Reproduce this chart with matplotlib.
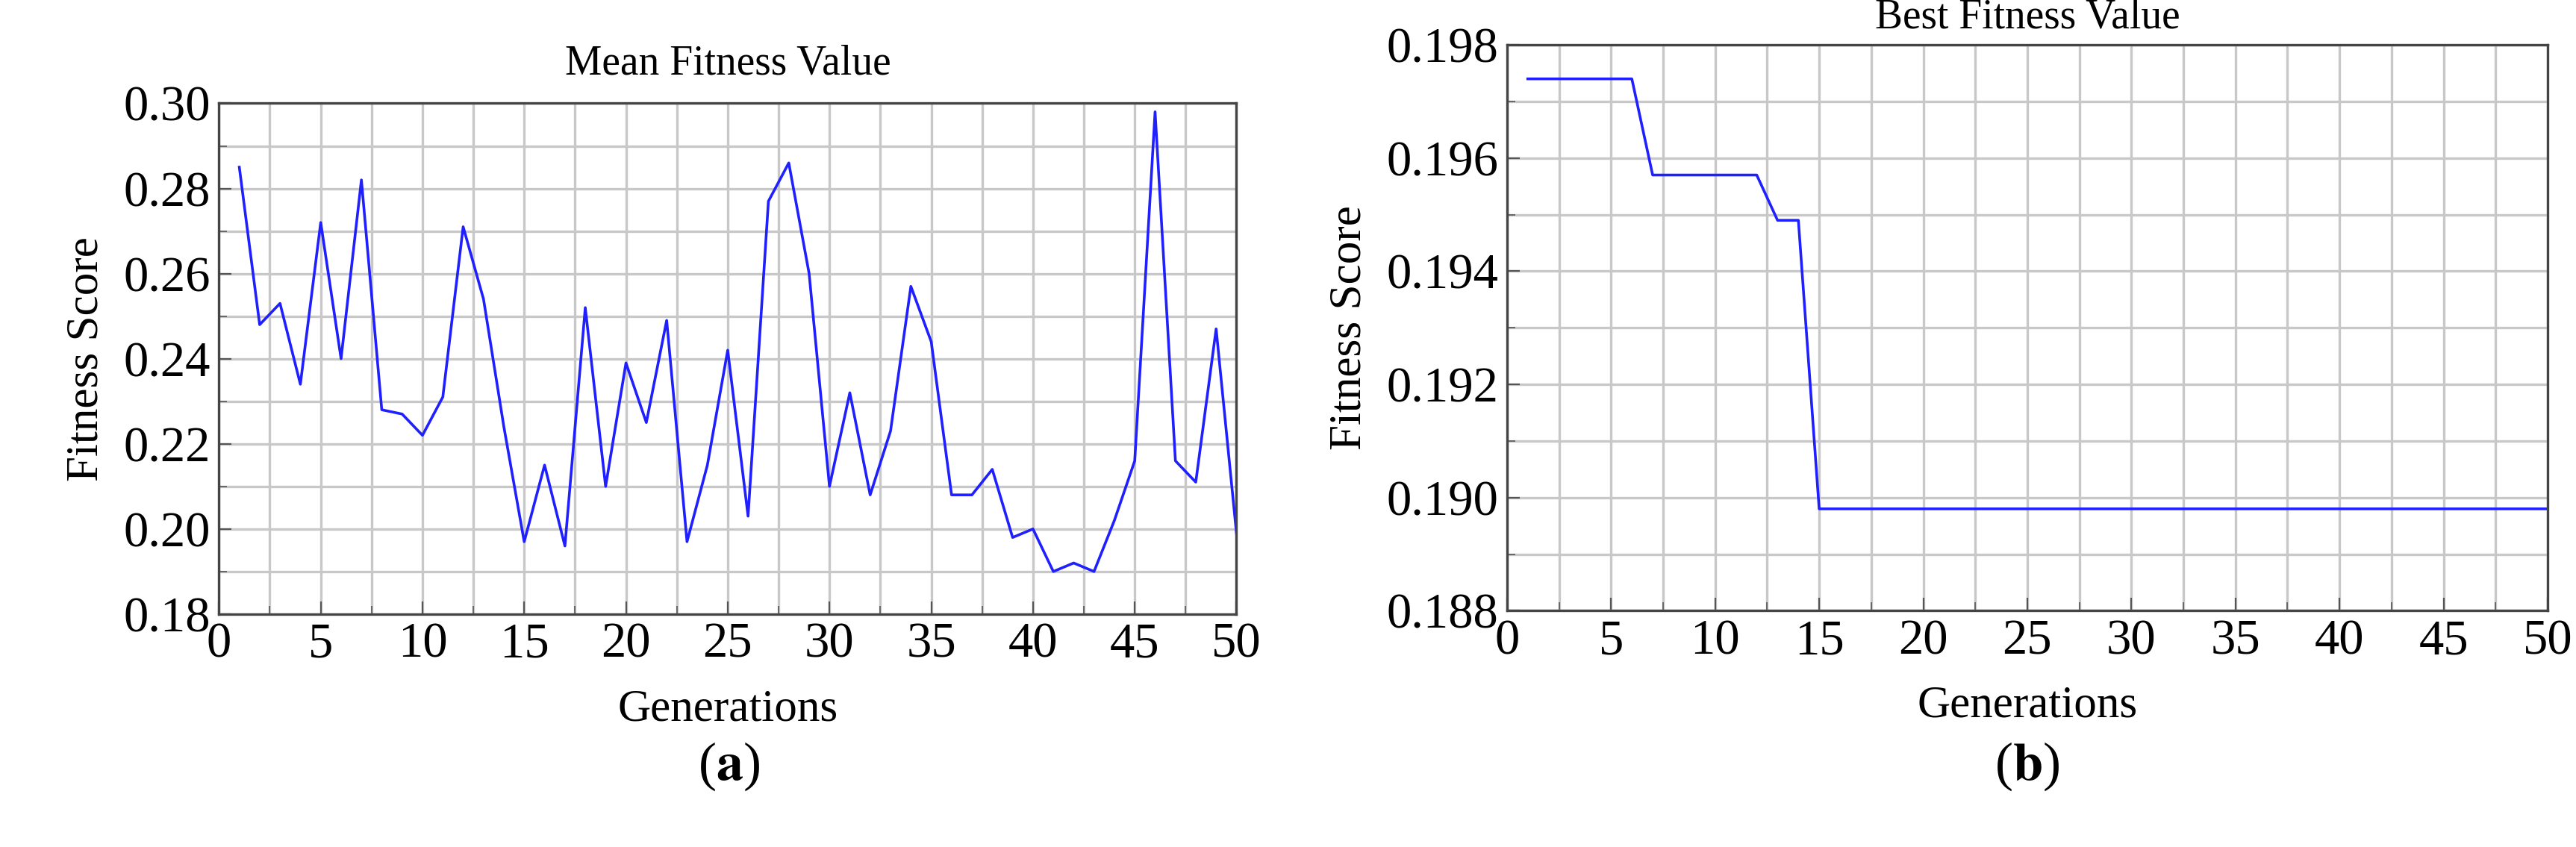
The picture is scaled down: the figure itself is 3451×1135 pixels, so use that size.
import matplotlib
matplotlib.use("Agg")
import matplotlib.pyplot as plt
from matplotlib.ticker import MultipleLocator, FormatStrFormatter

plt.rcParams['font.family'] = ['Liberation Serif', 'DejaVu Serif']
plt.rcParams['mathtext.fontset'] = 'stix'

generations = list(range(1, 51))
mean_fitness = [0.285, 0.248, 0.253, 0.234, 0.272, 0.240, 0.282, 0.228, 0.227, 0.222,
                0.231, 0.271, 0.254, 0.224, 0.197, 0.215, 0.196, 0.252, 0.210, 0.239,
                0.225, 0.249, 0.197, 0.215, 0.242, 0.203, 0.277, 0.286, 0.260, 0.210,
                0.232, 0.208, 0.223, 0.257, 0.244, 0.208, 0.208, 0.214, 0.198, 0.200,
                0.190, 0.192, 0.190, 0.202, 0.216, 0.298, 0.216, 0.211, 0.247, 0.199]
best_fitness = [0.1974]*6 + [0.1957]*6 + [0.1949]*2 + [0.1898]*36

fig = plt.figure(figsize=(17.255, 5.675), dpi=200)
ax1 = fig.add_axes([0.085, 0.275, 0.395, 0.603])
ax2 = fig.add_axes([0.585, 0.279, 0.404, 0.668])

def style(ax, ymaj, ymin, fmt):
    ax.set_xlim(0, 50)
    ax.xaxis.set_major_locator(MultipleLocator(5))
    ax.xaxis.set_minor_locator(MultipleLocator(2.5))
    ax.yaxis.set_major_locator(MultipleLocator(ymaj))
    ax.yaxis.set_minor_locator(MultipleLocator(ymin))
    ax.yaxis.set_major_formatter(FormatStrFormatter(fmt))
    ax.grid(which='major', color='#c8c8c8', lw=1.2)
    ax.grid(which='minor', color='#c8c8c8', lw=1.2)
    ax.set_axisbelow(True)
    ax.tick_params(which='both', direction='in', labelsize=24, length=6, color='#555555', pad=4)
    ax.tick_params(which='minor', length=4)
    for s in ax.spines.values():
        s.set_color('#444444'); s.set_linewidth(1.2)
    ax.set_xlabel('Generations', fontsize=22, labelpad=10)
    ax.set_ylabel('Fitness Score', fontsize=22, labelpad=8)

ax1.plot(generations, mean_fitness, color='#2020ff', lw=1.3)
ax1.set_ylim(0.18, 0.30)
style(ax1, 0.02, 0.01, '%.2f')
ax1.set_title('Mean Fitness Value', fontsize=20, pad=14)

ax2.plot(generations, best_fitness, color='#2020ff', lw=1.3)
ax2.set_ylim(0.188, 0.198)
style(ax2, 0.002, 0.001, '%.3f')
ax2.set_title('Best Fitness Value', fontsize=20, pad=8)

fig.text(0.283, 0.08, r'($\mathbf{a}$)', ha='center', fontsize=26)
fig.text(0.787, 0.08, r'($\mathbf{b}$)', ha='center', fontsize=26)

fig.savefig('out.png', dpi=200)
